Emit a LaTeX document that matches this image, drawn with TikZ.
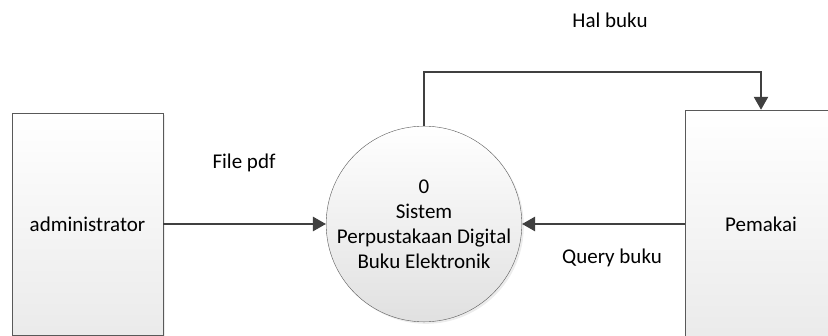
\documentclass[tikz,border=0pt]{standalone}
\usepackage{fontspec}
\setmainfont{Carlito}
\usetikzlibrary{arrows.meta, positioning, shadows}

\begin{document}
\begin{tikzpicture}[x=1pt,y=-1pt,font=\fontsize{21}{25}\selectfont,
                    entity/.style={rectangle,draw=black!65,thin,top color=white,bottom color=black!8,
                                   drop shadow={shadow xshift=2pt,shadow yshift=-2pt,opacity=0.15}},
                    process/.style={circle,draw=black!65,thin,top color=white,bottom color=black!12,
                                    align=center,inner sep=0pt,minimum size=190pt,
                                    drop shadow={shadow xshift=2pt,shadow yshift=-2pt,opacity=0.15}},
                    flow/.style={draw=black!75,line width=2.5pt,-{Triangle[length=13pt,width=14pt]}},
                    label/.style={inner sep=0pt}]
  \clip (0,0) rectangle (828,336);

  \node[entity,minimum width=151pt,minimum height=222pt] (admin) at (87.5,224) {administrator};
  \node[process] (proc) at (424,224) {0\\Sistem\\Perpustakaan Digital\\Buku Elektronik};
  \node[entity,minimum width=152pt,minimum height=228pt] (user) at (761,224) {Pemakai};

  \coordinate (bend) at (424,72);

  \path (admin) edge[flow] (proc)
        (user)  edge[flow] (proc);
  \draw[flow] (proc.north) -- (bend) -| (user.north);

  \node[label] (filepdf) at (244,163) {File pdf};
  \node[label] (query) at (612,258) {Query buku};
  \node[label] (hal) at (610,20) {Hal buku};

\end{tikzpicture}
\end{document}
